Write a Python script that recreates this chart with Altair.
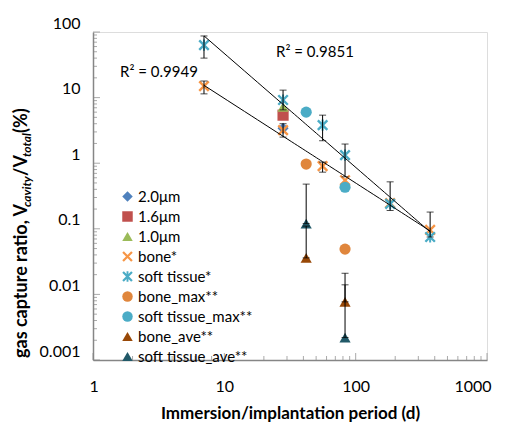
import altair as alt
import pandas as pd

# ---------------- data ----------------
series_order = ["2.0μm", "1.6μm", "1.0μm", "bone*", "soft tissue*",
                "bone_max**", "soft tissue_max**", "bone_ave**", "soft tissue_ave**"]
series_colors = ["#4F81BD", "#C0504D", "#9BBB59", "#F79646", "#4BACC6",
                 "#E0863C", "#4BACC6", "#984807", "#215968"]

pt_series = (["2.0μm", "1.6μm", "1.0μm"]
             + ["bone*"] * 6 + ["soft tissue*"] * 6
             + ["bone_max**"] * 2 + ["soft tissue_max**"] * 2
             + ["bone_ave**"] * 2 + ["soft tissue_ave**"] * 2)
pt_period = ([28, 28, 28]
             + [7, 28, 56, 83, 183, 369]
             + [7, 28, 56, 83, 183, 369]
             + [42, 83] + [42, 83] + [42, 83] + [42, 83])
pt_value = ([3.4, 5.4, 7.2]
            + [15, 3.2, 0.9, 0.55, 0.247, 0.096]
            + [63, 9.2, 3.8, 1.33, 0.24, 0.075]
            + [0.97, 0.049] + [6.0, 0.43] + [0.036, 0.0077] + [0.12, 0.0022])

eb_series = (["bone*"] * 3 + ["soft tissue*"] * 6
             + ["bone_ave**"] * 2 + ["soft tissue_ave**"] * 2)
eb_period = [7, 28, 56] + [7, 28, 56, 83, 183, 369] + [42, 83] + [42, 83]
eb_low = [11.4, 2.5, 0.73] + [40, 6.5, 2.2, 0.62, 0.19, 0.075] + [0.036, 0.0077] + [0.12, 0.0022]
eb_high = [17.9, 4.0, 1.04] + [87, 13, 5.4, 1.96, 0.52, 0.18] + [0.11, 0.021] + [0.48, 0.014]

fit_series = ["bone*", "soft tissue*"]
r2_labels = ["R² = 0.9949", "R² = 0.9851"]

x_major = [1, 10, 100, 1000]
y_major = [0.001, 0.01, 0.1, 1, 10, 100]
x_minor = [k * 10 ** e for e in range(0, 3) for k in range(2, 10)]
y_minor = [k * 10.0 ** e for e in range(-3, 2) for k in range(2, 10)]

title_parts = ["gas capture ratio, V", "cavity", "/V", "total", "(%)"]
x_title = "Immersion/implantation period (d)"

# ---------------- tables ----------------
points_df = pd.DataFrame({"series": pt_series, "period": pt_period, "value": pt_value})
eb_df = pd.DataFrame({"series": eb_series, "period": eb_period, "low": eb_low, "high": eb_high})
xmaj_df = pd.DataFrame({"t": x_major})
xmin_df = pd.DataFrame({"t": x_minor})
ymaj_df = pd.DataFrame({"t": y_major})
ymin_df = pd.DataFrame({"t": y_minor})
one = pd.DataFrame({"a": [0]})

W, H = 394, 328
FONT = "Lato"

X_PATH = "M-1,-0.7L-0.7,-1L1,0.7L0.7,1Z M1,-0.7L-0.7,1L-1,0.7L0.7,-1Z"
AST_PATH = X_PATH + " M-0.18,-1L0.18,-1L0.18,1L-0.18,1Z"
shapes = ["diamond", "square", "triangle-up", X_PATH, AST_PATH,
          "circle", "circle", "triangle-up", "triangle-up"]

x_scale = alt.Scale(type="log", domain=[1, 1000], nice=False)
y_scale = alt.Scale(type="log", domain=[0.001, 100], nice=False)

x_axis = alt.Axis(values=x_major, format="~g", ticks=False, grid=False,
                  domainColor="#868686", domainWidth=1.5,
                  labelFlush=True, labelFlushOffset=4,
                  labelFont=FONT, labelFontSize=16, labelColor="black", labelPadding=18,
                  title=x_title, titleFont=FONT,
                  titleFontSize=17, titleFontWeight="bold", titleColor="black",
                  titlePadding=11)
y_axis = alt.Axis(values=y_major, format="~g", ticks=False, grid=False,
                  domainColor="#868686", domainWidth=1.5,
                  labelFont=FONT, labelFontSize=16, labelColor="black", labelPadding=13,
                  labelOffset=-9, title="")


def X(field):
    return alt.X(field, type="quantitative", scale=x_scale, axis=x_axis, title=x_title)


def Y(field):
    return alt.Y(field, type="quantitative", scale=y_scale, axis=y_axis, title="")


legend = alt.Legend(orient="none", legendX=27, legendY=157, title=None,
                    labelFont=FONT, labelFontSize=15, labelColor="black",
                    symbolSize=110, rowPadding=4, labelOffset=3,
                    symbolStrokeWidth=0)

# ---------------- layers ----------------
xt_min = alt.Chart(xmin_df).mark_tick(orient="vertical", color="#868686", thickness=1, size=4).encode(
    x=X("t"), y=alt.value(H - 2))
xt_maj = alt.Chart(xmaj_df).mark_tick(orient="vertical", color="#868686", thickness=1, size=7).encode(
    x=X("t"), y=alt.value(H - 3.5))
yt_min = alt.Chart(ymin_df).mark_tick(orient="horizontal", color="#868686", thickness=1, size=4).encode(
    y=Y("t"), x=alt.value(2))
yt_maj = alt.Chart(ymaj_df).mark_tick(orient="horizontal", color="#868686", thickness=1, size=7).encode(
    y=Y("t"), x=alt.value(3.5))

err = alt.Chart(eb_df).mark_rule(color="black", strokeWidth=1).encode(
    x=X("period"), y=Y("low"), y2="high:Q")
cap_hi = alt.Chart(eb_df).mark_tick(orient="horizontal", color="black", thickness=1, size=7).encode(
    x=X("period"), y=Y("high"))
cap_lo = alt.Chart(eb_df).mark_tick(orient="horizontal", color="black", thickness=1, size=7).encode(
    x=X("period"), y=Y("low"))

pts = alt.Chart(points_df).mark_point(filled=True, opacity=1, size=125, strokeWidth=0).encode(
    x=X("period"), y=Y("value"),
    color=alt.Color("series:N", scale=alt.Scale(domain=series_order, range=series_colors), legend=legend),
    shape=alt.Shape("series:N", scale=alt.Scale(domain=series_order, range=shapes), legend=legend),
)

trend = alt.Chart(points_df).transform_filter(
    alt.FieldOneOfPredicate(field="series", oneOf=fit_series)
).transform_regression("period", "value", method="pow", groupby=["series"]).mark_line(
    color="black", strokeWidth=1).encode(
    x=X("period"), y=Y("value"), detail="series:N")

r2a = alt.Chart(one).mark_text(text=r2_labels[0], align="left", baseline="middle",
                                font=FONT, fontSize=15, color="black").encode(
    x=alt.value(27), y=alt.value(40))
r2b = alt.Chart(one).mark_text(text=r2_labels[1], align="left", baseline="middle",
                                font=FONT, fontSize=15, color="black").encode(
    x=alt.value(183), y=alt.value(20))

# y-axis title built from pieces (subscripts)
TX = -71
big, small = 18, 12
y0 = 326
w = [151, 31, 19, 24, 27]
ys = [y0, y0 - w[0], y0 - w[0] - w[1], y0 - w[0] - w[1] - w[2], y0 - w[0] - w[1] - w[2] - w[3]]
ttl = []
for i, part in enumerate(title_parts):
    is_sub = i in (1, 3)
    ttl.append(alt.Chart(one).mark_text(
        text=part, angle=270, align="left", baseline="middle", font=FONT,
        fontSize=small if is_sub else big, fontWeight="bold",
        fontStyle="italic" if is_sub else "normal", color="black").encode(
        x=alt.value(TX + (5 if is_sub else 0)), y=alt.value(ys[i])))

chart = alt.layer(
    pts, xt_min, xt_maj, yt_min, yt_maj, err, cap_hi, cap_lo, trend, r2a, r2b, *ttl
).properties(
    width=W, height=H,
    autosize=alt.AutoSizeParams(type="none"),
    padding={"left": 85, "top": 24, "right": 16, "bottom": 64},
).configure_view(stroke="#BFBFBF", strokeWidth=1).configure(background="white")

chart.save("out.html", embed_options={"renderer": "svg", "actions": False})
